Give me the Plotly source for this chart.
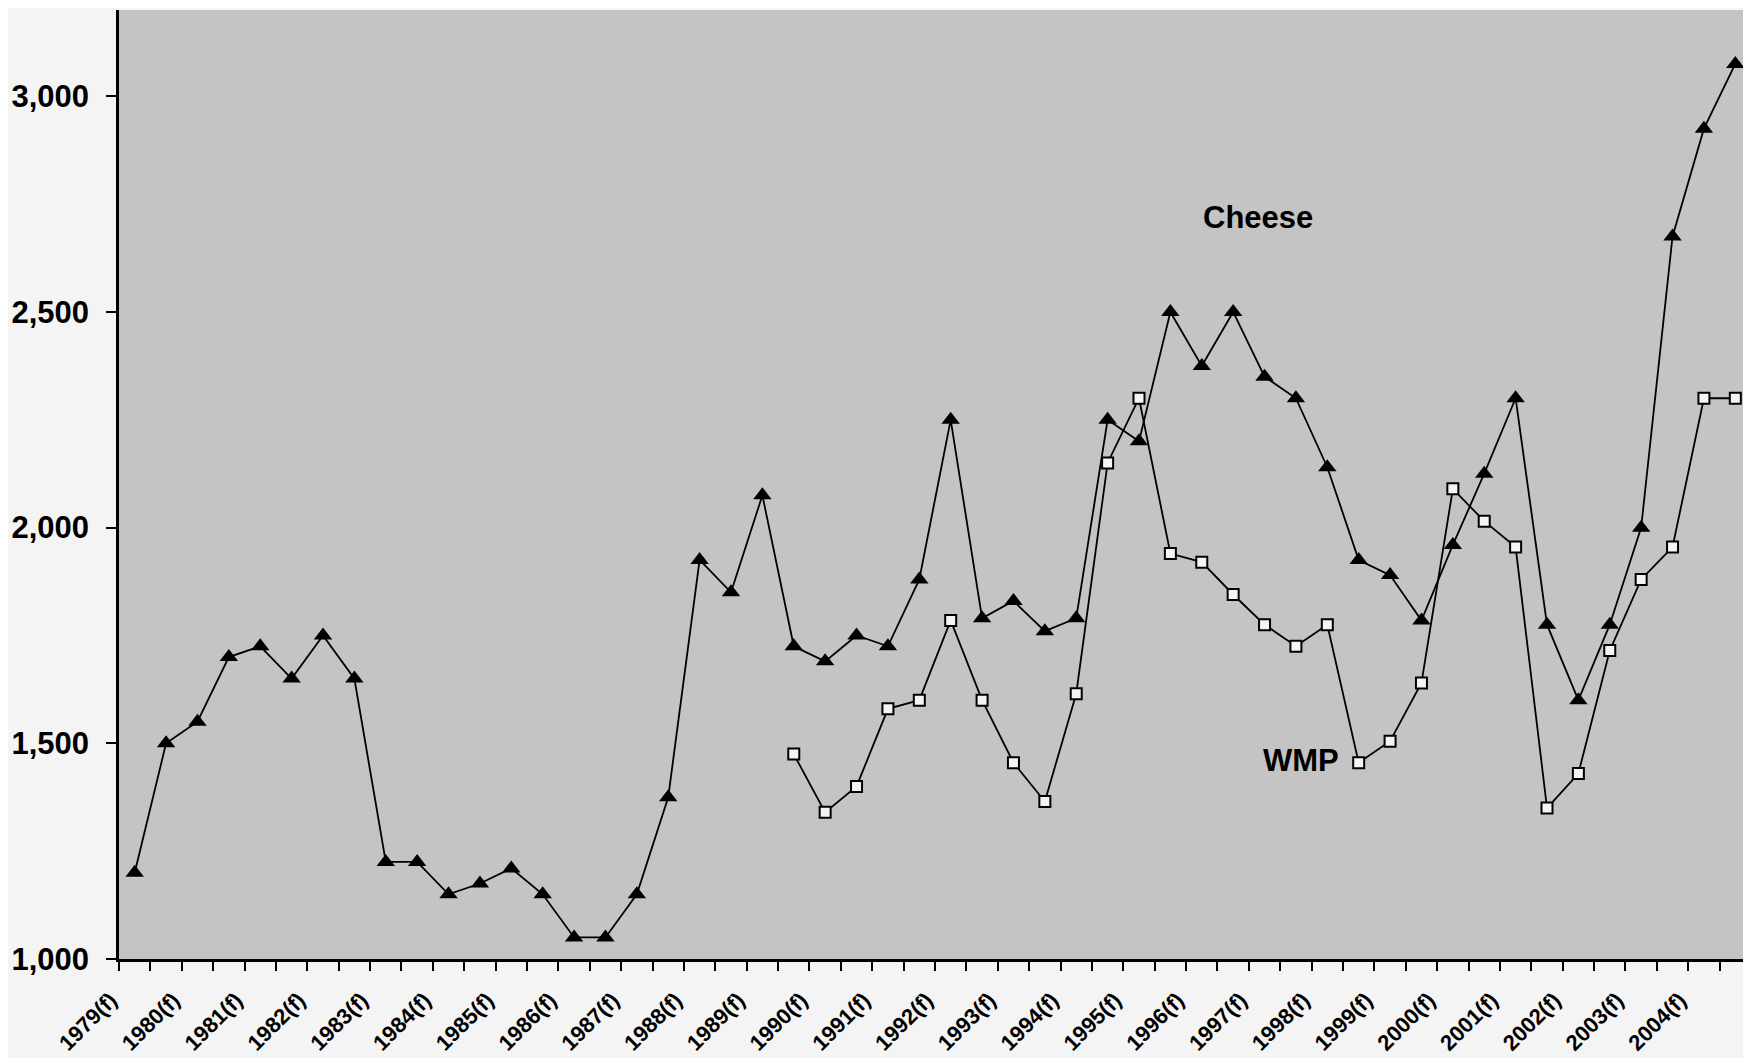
import plotly.graph_objects as go

# Half-year periods 1979 .. 2004 (two per year)
periods = [f"{y}-{h}" for y in range(1979, 2005) for h in ("H1", "H2")]

year_labels = ["1979(f)", "1980(f)", "1981(f)", "1982(f)", "1983(f)", "1984(f)",
               "1985(f)", "1986(f)", "1987(f)", "1988(f)", "1989(f)", "1990(f)",
               "1991(f)", "1992(f)", "1993(f)", "1994(f)", "1995(f)", "1996(f)",
               "1997(f)", "1998(f)", "1999(f)", "2000(f)", "2001(f)", "2002(f)",
               "2003(f)", "2004(f)"]

cheese = [1200, 1500, 1550, 1700, 1725, 1650, 1750, 1650, 1225, 1225,
          1150, 1175, 1210, 1150, 1050, 1050, 1150, 1375, 1925, 1850,
          2075, 1725, 1690, 1750, 1725, 1880, 2250, 1790, 1830, 1760,
          1790, 2250, 2200, 2500, 2375, 2500, 2350, 2300, 2140, 1925,
          1890, 1785, 1960, 2125, 2300, 1775, 1600, 1775, 2000, 2675,
          2925, 3075]

wmp = [None] * 21 + [1475, 1340, 1400, 1580, 1600, 1785, 1600, 1455, 1365,
                     1615, 2150, 2300, 1940, 1920, 1845, 1775, 1725, 1775, 1455,
                     1505, 1640, 2090, 2015, 1955, 1350, 1430, 1715, 1880, 1955,
                     2300, 2300]

y_ticks = [1000, 1500, 2000, 2500, 3000]

FONT = "Liberation Sans, Arial, sans-serif"

fig = go.Figure()
fig.add_trace(go.Scatter(
    x=periods, y=cheese, mode="lines+markers", name="Cheese",
    line=dict(color="black", width=1.8),
    marker=dict(symbol="triangle-up", size=16, color="black"),
    showlegend=False))
fig.add_trace(go.Scatter(
    x=periods, y=wmp, mode="lines+markers", name="WMP",
    line=dict(color="black", width=1.8),
    marker=dict(symbol="square", size=11, color="#f4f4f4",
                line=dict(color="black", width=2)),
    showlegend=False))

n = len(periods)
fig.update_layout(
    width=1743, height=1050, autosize=False,
    paper_bgcolor="#f4f4f4", plot_bgcolor="#c4c4c4",
    margin=dict(l=111, r=0, t=2, b=99),
    font=dict(family=FONT, color="black"),
    xaxis=dict(type="category", categoryorder="array", categoryarray=periods,
               range=[-0.5, n - 0.5], tickson="boundaries", ticks="outside",
               ticklen=9, tickwidth=2, tickcolor="black", automargin=False,
               showticklabels=False, showgrid=False, zeroline=False,
               showline=True, linecolor="black", linewidth=2.5),
    xaxis2=dict(overlaying="x", side="bottom", range=[-0.5, n - 0.5],
                tickmode="array", tickvals=list(range(0, n, 2)),
                ticktext=year_labels, tickangle=-45, ticks="",
                ticklabelstandoff=23, ticklabelshift=-24, automargin=False,
                tickfont=dict(size=22, family=FONT, weight="bold"),
                showgrid=False, zeroline=False, showline=False),
    yaxis=dict(range=[1000, 3200], tickvals=y_ticks, tickformat=",",
               ticks="outside", ticklen=10, tickwidth=2, tickcolor="black",
               tickfont=dict(size=31, family=FONT, weight="bold"),
               ticklabelstandoff=11, automargin=False,
               showgrid=False, zeroline=False,
               showline=True, linecolor="black", linewidth=2.5),
    annotations=[
        dict(text="Cheese", x=0.698, xref="paper", y=2720, yref="y",
             xanchor="center", yanchor="middle",
             showarrow=False, font=dict(size=31, family=FONT, weight="bold")),
        dict(text="WMP", x=0.724, xref="paper", y=1461, yref="y",
             xanchor="center", yanchor="middle",
             showarrow=False, font=dict(size=31, family=FONT, weight="bold")),
    ],
)
# invisible trace to activate the label axis
fig.add_trace(go.Scatter(x=[0], y=[None], xaxis="x2", yaxis="y",
                         showlegend=False, hoverinfo="skip"))

fig.write_html("out.html")
